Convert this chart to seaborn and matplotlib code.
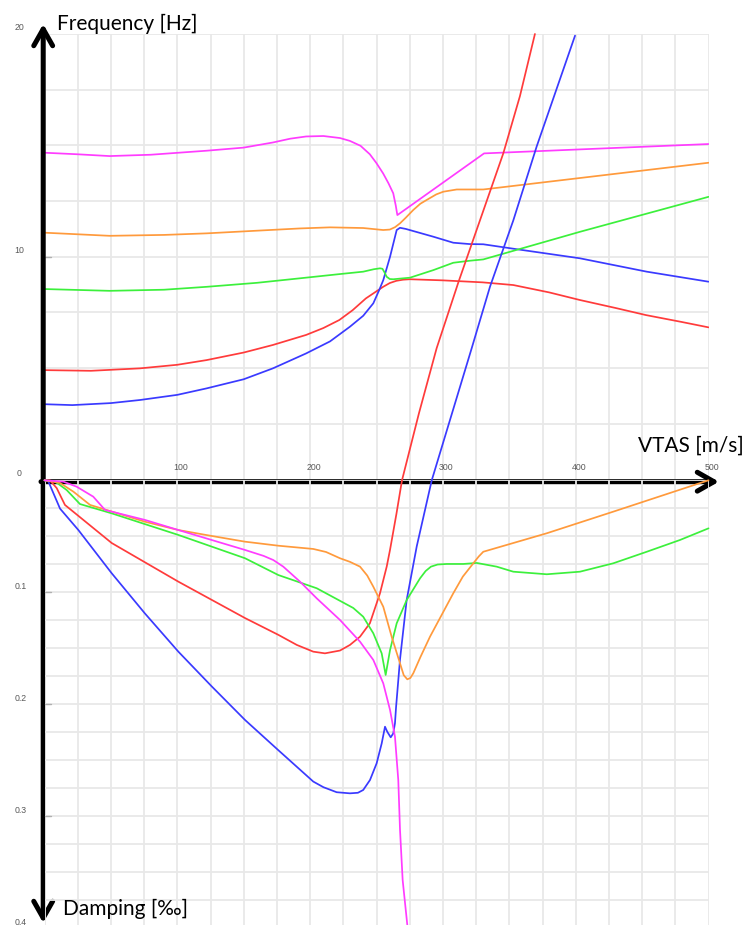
import matplotlib
matplotlib.use("Agg")
import matplotlib.pyplot as plt
from matplotlib.patches import FancyArrowPatch
from matplotlib.ticker import MultipleLocator
from matplotlib.transforms import offset_copy
import pandas as pd
import seaborn as sns

# ---------------------------------------------------------------------------
# Modal frequencies [Hz] against true airspeed VTAS [m/s]
# ---------------------------------------------------------------------------
v_freq_red = [0, 35, 72, 100, 122, 150, 172, 197, 210, 222, 232, 242, 250, 255, 260, 265,
              270, 275, 300, 330, 353, 380, 403, 430, 453, 480, 500]
f_red = [4.91, 4.88, 4.99, 5.15, 5.36, 5.7, 6.04, 6.49, 6.8, 7.16, 7.6, 8.13, 8.45, 8.65,
         8.82, 8.92, 8.97, 8.99, 8.94, 8.85, 8.73, 8.4, 8.06, 7.7, 7.38, 7.07, 6.83]

v_freq_blue = [0, 21, 50, 72, 100, 122, 150, 172, 197, 215, 230, 240, 247.6, 252, 255.1,
               260.2, 265.2, 267.7, 272, 292.8, 307.8, 320, 330.4, 360, 403.2, 453.5, 500]
f_blue = [3.38, 3.34, 3.43, 3.57, 3.8, 4.09, 4.5, 4.99, 5.66, 6.2, 6.86, 7.35, 7.91, 8.5,
          8.95, 10.0, 11.2, 11.3, 11.25, 10.9, 10.63, 10.57, 10.56, 10.3, 9.93, 9.33, 8.88]

v_freq_green = [0, 49, 90, 122, 160, 192, 222, 240, 248, 252.6, 254.5, 256, 257.7, 260,
                262.7, 268, 275.2, 292.8, 307.8, 320, 330.4, 403.2, 500]
f_green = [8.55, 8.47, 8.52, 8.65, 8.83, 9.03, 9.22, 9.33, 9.44, 9.48, 9.46, 9.3, 9.1, 9.0,
           8.99, 9.02, 9.06, 9.4, 9.73, 9.82, 9.88, 11.12, 12.69]

v_freq_orange = [0, 49, 90, 122, 160, 192, 215, 240, 255, 260, 264, 267.7, 272, 277.7, 283,
                 287.8, 295, 300.3, 310.4, 330.4, 500]
f_orange = [11.08, 10.94, 10.98, 11.05, 11.17, 11.27, 11.32, 11.29, 11.2, 11.22, 11.33, 11.5,
            11.75, 12.1, 12.38, 12.55, 12.8, 12.92, 13.02, 13.02, 14.22]

v_freq_magenta = [0, 25, 49, 80, 122, 150, 172, 185, 197, 210, 222.5, 230, 238, 245, 250,
                  255, 259, 262.6, 264.5, 265.7, 331, 500]
f_magenta = [14.67, 14.6, 14.52, 14.58, 14.76, 14.9, 15.13, 15.3, 15.40, 15.42, 15.33, 15.2,
             14.98, 14.6, 14.2, 13.74, 13.3, 12.85, 12.3, 11.87, 14.64, 15.06]

# ---------------------------------------------------------------------------
# Modal damping [per mille] against VTAS; negative values = unstable branch
# ---------------------------------------------------------------------------
v_damp_red = [0, 4.1, 9.2, 15.4, 50.6, 100.8, 151, 176.1, 190, 202.4, 211.2, 222.5, 230,
              237.6, 245, 252.6, 257.7, 260.2, 265, 269.2, 282, 295.3, 312, 328, 345.5,
              358, 369.3]
d_red = [0, 0.0, 0.007, 0.022, 0.056, 0.0905, 0.123, 0.138, 0.147, 0.153, 0.1545, 0.152,
         0.147, 0.1396, 0.1277, 0.101, 0.077, 0.062, 0.03, 0.0, -0.06, -0.118, -0.178,
         -0.2324, -0.292, -0.343, -0.3985]

v_damp_blue = [0, 2.9, 11.7, 25.5, 50.6, 75.7, 100.8, 125.9, 151, 176.1, 202.4, 210, 220,
               230, 236, 240, 245.1, 250.1, 253.9, 256.4, 258.1, 260.7, 262.6, 263.9, 264.7,
               267.7, 272.7, 280.3, 291.6, 321.7, 335.5, 353, 370.6, 399.5]
d_blue = [0, 0.001, 0.0253, 0.0444, 0.083, 0.119, 0.153, 0.184, 0.214, 0.241, 0.269, 0.274,
          0.2785, 0.2795, 0.279, 0.2765, 0.2676, 0.2527, 0.235, 0.22, 0.2245, 0.2295, 0.226,
          0.217, 0.203, 0.160, 0.107, 0.059, 0.0, -0.118, -0.173, -0.232, -0.298, -0.397]

v_damp_green = [0, 7.9, 16.7, 26.7, 50.6, 100.8, 151, 176.1, 205, 232.5, 240, 247.6, 253.9,
                256.9, 260.2, 265.2, 272.7, 282.8, 287, 291, 296, 302.9, 315.4, 325.5, 340.5,
                353, 378.2, 403.2, 428.3, 453.5, 478.5, 500]
d_green = [0, 0.001, 0.0087, 0.0212, 0.0295, 0.0488, 0.0696, 0.0846, 0.0964, 0.114, 0.1218,
           0.1366, 0.1545, 0.1738, 0.1515, 0.1277, 0.107, 0.0875, 0.081, 0.0771, 0.0752,
           0.0747, 0.0747, 0.0738, 0.0771, 0.0816, 0.0839, 0.0816, 0.0741, 0.0638, 0.0533,
           0.0429]

v_damp_orange = [0, 11.7, 21.7, 34.3, 46.8, 75.7, 100.8, 125.9, 151, 176.1, 202.4, 212,
                 222.5, 230, 237.6, 243, 247.6, 255.1, 261.4, 267.7, 270.5, 273.2, 275.5,
                 277.7, 283, 290.3, 307.8, 315, 322.9, 327, 330.4, 378.2, 428.3, 500]
d_orange = [0, 0.0024, 0.0101, 0.022, 0.0265, 0.037, 0.0444, 0.0497, 0.0548, 0.0584, 0.0613,
            0.064, 0.0696, 0.0728, 0.0771, 0.085, 0.095, 0.1129, 0.1396, 0.1634, 0.174,
            0.1777, 0.1765, 0.1723, 0.158, 0.1396, 0.1009, 0.086, 0.0741, 0.068, 0.0638,
            0.0473, 0.028, 0.0]

v_damp_magenta = [0, 14.2, 24.2, 36.7, 45.6, 75.7, 100.8, 125.9, 151, 165, 172.3, 179.8,
                  192.4, 205, 222.5, 237.6, 247.6, 255.1, 260.2, 263.9, 266.4, 267.7, 269.7,
                  273.2]
d_magenta = [0, 0.0012, 0.0057, 0.0146, 0.0265, 0.0354, 0.0444, 0.0533, 0.0622, 0.0675,
             0.0712, 0.0771, 0.0905, 0.1054, 0.1247, 0.1441, 0.1604, 0.1813, 0.2051, 0.2289,
             0.2676, 0.312, 0.357, 0.397]

mode_colors = {"red": "#ff3b3b", "blue": "#3a3aff", "green": "#3cf03c",
               "orange": "#ff9a3c", "magenta": "#ff3cff"}

x_tick_values = [100, 200, 300, 400, 500]
freq_tick_values = [0, 10, 20]
damp_tick_values = [0.1, 0.2, 0.3, 0.4]


def long_frame(series):
    rows = []
    for mode, (xs, ys) in series.items():
        rows += [{"mode": mode, "vtas": a, "value": b} for a, b in zip(xs, ys)]
    return pd.DataFrame(rows)


freq_df = long_frame({
    "red": (v_freq_red, f_red), "blue": (v_freq_blue, f_blue),
    "green": (v_freq_green, f_green), "orange": (v_freq_orange, f_orange),
    "magenta": (v_freq_magenta, f_magenta),
})
damp_df = long_frame({
    "red": (v_damp_red, d_red), "blue": (v_damp_blue, d_blue),
    "green": (v_damp_green, d_green), "orange": (v_damp_orange, d_orange),
    "magenta": (v_damp_magenta, d_magenta),
})

sns.set_style("white")
plt.rcParams["font.family"] = ["Liberation Sans", "DejaVu Sans"]

W, H = 742, 925
fig = plt.figure(figsize=(W / 100, H / 100), dpi=100)
left, right = 44.5 / W, 708.5 / W
ax_f = fig.add_axes([left, (H - 479.5) / H, right - left, (479.5 - 34) / H])
ax_d = fig.add_axes([left, (H - 928.3) / H, right - left, (928.3 - 480.3) / H])

grid_kw = dict(color="#e8e8e8", linewidth=1.3)
for ax in (ax_f, ax_d):
    ax.patch.set_alpha(0)
    for s in ax.spines.values():
        s.set_visible(False)
    ax.set_xlim(0, 500)
    ax.xaxis.set_major_locator(MultipleLocator(25))
    ax.tick_params(which="both", length=0, labelbottom=False, labelleft=False)
    ax.grid(True, **grid_kw)

ax_f.set_ylim(0, 20)
ax_f.yaxis.set_major_locator(MultipleLocator(2.5))
ax_d.set_ylim(0.4, 0)
ax_d.yaxis.set_major_locator(MultipleLocator(0.025))
ax_d.set_zorder(ax_f.get_zorder() + 1)

line_kw = dict(x="vtas", y="value", hue="mode", palette=mode_colors, estimator=None,
               sort=False, legend=False, linewidth=1.25)
sns.lineplot(data=freq_df, ax=ax_f, **line_kw)
sns.lineplot(data=damp_df, ax=ax_d, **line_kw)
for ax in (ax_f, ax_d):
    for line in ax.lines:
        line.set_solid_joinstyle("round")
    ax.set_xlabel("")
    ax.set_ylabel("")
for line in ax_d.lines:
    line.set_clip_on(False)

# tick labels
tick_kw = dict(fontsize=6.3, color="#595959", ha="center", va="center")
for v in x_tick_values:
    ax_f.text(v, 0, f"{v}", transform=offset_copy(ax_f.transData, fig, x=3.5, y=12.5, units="dots"),
              **tick_kw)
for f in freq_tick_values:
    ax_f.text(0, f, f"{f}", transform=offset_copy(ax_f.transData, fig, x=-25, y=6, units="dots"),
              **tick_kw)
for d in damp_tick_values:
    ax_d.text(0, d, f"{d:g}", transform=offset_copy(ax_d.transData, fig, x=-24, y=6, units="dots"),
              clip_on=False, **tick_kw)

# small grey tick stubs on the vertical axis
for f in freq_tick_values[1:2]:
    ax_f.plot([0, 5], [f, f], color="#b0b0b0", lw=1.0, clip_on=False)
for d in damp_tick_values[:3]:
    ax_d.plot([0, 5], [d, d], color="#b0b0b0", lw=1.0, clip_on=False)

# axis arrows
arrow_kw = dict(color="black", lw=3.6, shrinkA=0, shrinkB=0, mutation_scale=20,
                capstyle="round", joinstyle="round", transform=None)
fig.add_artist(FancyArrowPatch((43.2, H - 923), (43.2, H - 24),
                               arrowstyle="<->,head_length=0.6,head_width=0.34", **arrow_kw))
fig.add_artist(FancyArrowPatch((41, H - 481.7), (719, H - 481.7),
                               arrowstyle="->,head_length=0.6,head_width=0.34", **arrow_kw))

# axis titles
title_kw = dict(fontsize=15, family=["Lato", "DejaVu Sans"], color="black", va="baseline")
fig.text(57 / W, 1 - 30 / H, "Frequency [Hz]", **title_kw)
fig.text(638 / W, 1 - 452 / H, "VTAS [m/s]", **title_kw)
fig.text(63 / W, 1 - 915 / H, "Damping [\u2030]", **title_kw)

fig.savefig("out.png", dpi=100)
